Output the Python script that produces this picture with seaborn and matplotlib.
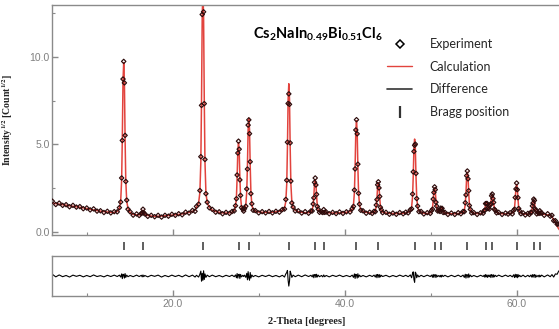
import numpy as np
import pandas as pd
import matplotlib.pyplot as plt
import seaborn as sns
from matplotlib.lines import Line2D

# 2-theta grid (deg), calculated profile sqrt(I) and difference (obs - calc)
two_theta = [
    6.0, 6.4, 6.8, 7.2, 7.6, 8.0, 8.4, 8.8, 9.2, 9.6, 10.0, 10.4, 10.8, 11.2, 11.6, 12.0, 12.4, 12.8, 13.2,
    13.55, 13.80, 13.95, 14.06, 14.14, 14.22, 14.30, 14.38, 14.46, 14.54, 14.65, 14.80, 15.05,
    15.4, 15.8, 16.1, 16.35, 16.45, 16.54, 16.63, 16.75, 17.1, 17.5, 17.9, 18.3, 18.7, 19.1, 19.5, 19.9, 20.3, 20.7, 21.1, 21.5, 21.9, 22.3, 22.6,
    22.76, 23.01, 23.16, 23.27, 23.35, 23.43, 23.51, 23.59, 23.67, 23.75, 23.86, 24.01, 24.26,
    24.6, 25.0, 25.4, 25.8, 26.2, 26.6, 26.9,
    27.15, 27.30, 27.41, 27.49, 27.57, 27.65, 27.73, 27.81, 27.89, 28.00, 28.15, 28.25,
    28.35, 28.50, 28.61, 28.69, 28.77, 28.85, 28.93, 29.01, 29.09, 29.20, 29.35, 29.60,
    30.0, 30.4, 30.8, 31.2, 31.6, 32.0, 32.4,
    32.75, 33.00, 33.15, 33.26, 33.34, 33.42, 33.50, 33.58, 33.66, 33.74, 33.85, 34.00, 34.25,
    34.6, 35.0, 35.4, 35.8, 36.07,
    36.22, 36.33, 36.41, 36.49, 36.57, 36.65, 36.73, 36.81, 36.92, 37.07, 37.30,
    37.45, 37.56, 37.67, 37.85, 38.2, 38.6, 39.0, 39.4, 39.8, 40.2,
    40.62, 40.87, 41.02, 41.13, 41.21, 41.29, 41.37, 41.45, 41.53, 41.61, 41.72, 41.87, 42.12,
    42.5, 42.9, 43.2,
    43.41, 43.56, 43.67, 43.75, 43.83, 43.91, 43.99, 44.07, 44.15, 44.26, 44.41,
    44.8, 45.2, 45.6, 46.0, 46.4, 46.8, 47.1,
    47.38, 47.63, 47.78, 47.89, 47.97, 48.05, 48.13, 48.21, 48.29, 48.37, 48.48, 48.63, 48.88,
    49.2, 49.6,
    49.95, 50.10, 50.21, 50.29, 50.37, 50.45, 50.53, 50.61, 50.69, 50.80, 50.95,
    51.08, 51.16, 51.24, 51.32, 51.45, 51.65,
    52.0, 52.4, 52.8, 53.2,
    53.51, 53.76, 53.91, 54.02, 54.10, 54.18, 54.26, 54.34, 54.42, 54.50, 54.61, 54.76, 55.01,
    55.4, 55.8, 56.1,
    56.22, 56.30, 56.38, 56.46, 56.54, 56.62, 56.72, 56.82, 56.92, 57.00, 57.08, 57.16, 57.24, 57.32, 57.40, 57.51, 57.66, 57.90,
    58.3, 58.7, 59.0,
    59.24, 59.49, 59.64, 59.75, 59.83, 59.91, 59.99, 60.07, 60.15, 60.23, 60.34, 60.49, 60.74,
    61.0, 61.3, 61.48,
    61.63, 61.74, 61.82, 61.90, 61.98, 62.06, 62.14, 62.22, 62.33, 62.50, 62.60, 62.68, 62.76, 62.90,
    63.2, 63.6, 63.9, 64.1, 64.3, 64.5, 64.7, 64.85, 65.0,
]
y_calc = [
    1.64, 1.60, 1.57, 1.54, 1.51, 1.48, 1.45, 1.42, 1.39, 1.36, 1.32, 1.28, 1.24, 1.20, 1.17, 1.14, 1.12, 1.10, 1.09,
    1.16, 1.32, 1.75, 2.95, 5.37, 8.64, 9.67, 8.64, 5.37, 2.95, 1.75, 1.32, 1.10,
    0.98, 0.96, 0.95, 1.00, 1.12, 1.22, 1.12, 0.98, 0.92, 0.89, 0.87, 0.88, 0.89, 0.90, 0.92, 0.94, 0.96, 0.98, 1.01, 1.05, 1.10, 1.16, 1.22,
    1.40, 1.63, 2.25, 4.01, 7.53, 12.29, 13.80, 12.29, 7.53, 4.01, 2.25, 1.63, 1.40,
    1.22, 1.15, 1.10, 1.07, 1.06, 1.07, 1.10,
    1.22, 1.42, 1.98, 3.10, 4.62, 5.10, 4.62, 3.10, 1.98, 1.42, 1.24, 1.20,
    1.26, 1.53, 2.29, 3.80, 5.85, 6.50, 5.85, 3.80, 2.29, 1.53, 1.26, 1.17,
    1.12, 1.10, 1.10, 1.10, 1.11, 1.13, 1.16,
    1.22, 1.35, 1.72, 2.74, 4.80, 7.59, 8.47, 7.59, 4.80, 2.74, 1.72, 1.35, 1.22,
    1.14, 1.10, 1.08, 1.08, 1.14,
    1.23, 1.50, 2.03, 2.75, 2.98, 2.75, 2.03, 1.50, 1.23, 1.14, 1.10,
    1.14, 1.20, 1.14, 1.09, 1.07, 1.06, 1.06, 1.07, 1.08, 1.10,
    1.16, 1.26, 1.52, 2.26, 3.73, 5.72, 6.35, 5.72, 3.73, 2.26, 1.52, 1.26, 1.16,
    1.10, 1.07, 1.07,
    1.11, 1.20, 1.44, 1.93, 2.59, 2.80, 2.59, 1.93, 1.44, 1.20, 1.11,
    1.06, 1.04, 1.03, 1.03, 1.04, 1.05, 1.07,
    1.11, 1.19, 1.40, 1.99, 3.18, 4.79, 5.30, 4.79, 3.18, 1.99, 1.40, 1.19, 1.11,
    1.05, 1.03,
    1.07, 1.15, 1.35, 1.77, 2.32, 2.50, 2.32, 1.77, 1.40, 1.22, 1.16,
    1.20, 1.30, 1.35, 1.28, 1.12, 1.06,
    1.03, 1.02, 1.02, 1.03,
    1.06, 1.10, 1.22, 1.55, 2.22, 3.12, 3.40, 3.12, 2.22, 1.55, 1.22, 1.10, 1.06,
    1.03, 1.03, 1.08,
    1.14, 1.30, 1.52, 1.65, 1.55, 1.40, 1.32, 1.33, 1.45, 1.68, 1.97, 2.10, 1.97, 1.60, 1.33, 1.18, 1.10, 1.05,
    1.02, 1.01, 1.03,
    1.04, 1.06, 1.14, 1.37, 1.85, 2.50, 2.70, 2.50, 1.85, 1.37, 1.14, 1.06, 1.02,
    1.00, 1.00, 1.02,
    1.05, 1.16, 1.39, 1.70, 1.80, 1.70, 1.39, 1.16, 1.06, 1.04, 1.10, 1.14, 1.10, 1.02,
    0.98, 0.96, 0.92, 0.85, 0.68, 0.50, 0.32, 0.18, 0.08,
]
y_diff = [
    0.10, -0.05, 0.06, -0.04, 0.03, -0.06, 0.05, -0.02, 0.04, -0.05, 0.03, -0.04, 0.06, -0.03, 0.02, -0.05, 0.04, -0.03, 0.05,
    -0.03, 0.05, -0.06, 0.12, -0.15, 0.10, 0.08, -0.12, 0.14, -0.08, 0.05, -0.04, 0.03,
    -0.04, 0.05, -0.03, 0.04, -0.05, 0.06, -0.04, 0.03, -0.05, 0.04, -0.02, 0.05, -0.06, 0.03, -0.04, 0.05, -0.03, 0.04, -0.05, 0.06, -0.04, 0.05, -0.06,
    0.04, -0.06, 0.10, 0.28, -0.30, 0.15, -0.25, 0.30, -0.20, 0.12, -0.08, 0.05, -0.04,
    0.05, -0.04, 0.03, -0.05, 0.04, -0.03, 0.05,
    -0.04, 0.06, -0.10, 0.14, -0.12, 0.08, 0.10, -0.14, 0.09, -0.05, 0.04, -0.03,
    0.05, -0.08, 0.15, -0.22, 0.25, -0.10, -0.24, 0.20, -0.12, 0.06, -0.04, 0.03,
    -0.05, 0.04, -0.03, 0.05, -0.04, 0.03, -0.05,
    0.04, -0.06, 0.12, 0.20, 0.32, -0.25, -0.58, -0.30, 0.28, 0.15, -0.08, 0.05, -0.04,
    0.05, -0.04, 0.06, -0.03, 0.04,
    -0.05, 0.08, -0.10, 0.07, 0.09, -0.08, 0.10, -0.06, 0.05, -0.04, 0.03,
    -0.05, 0.06, -0.04, 0.03, -0.05, 0.04, -0.03, 0.05, -0.04, 0.03,
    -0.04, 0.05, -0.08, 0.12, -0.14, 0.10, 0.06, -0.12, 0.13, -0.07, 0.05, -0.04, 0.03,
    -0.05, 0.04, -0.03,
    0.05, -0.06, 0.08, -0.10, 0.09, 0.05, -0.09, 0.08, -0.05, 0.04, -0.03,
    0.04, -0.05, 0.03, -0.04, 0.05, -0.03, 0.04,
    -0.04, 0.06, -0.10, 0.16, 0.24, -0.20, -0.36, 0.22, 0.15, -0.10, 0.06, -0.05, 0.04,
    -0.04, 0.05,
    -0.03, 0.05, -0.07, 0.09, -0.08, 0.06, 0.08, -0.09, 0.06, -0.04, 0.03,
    -0.05, 0.04, -0.06, 0.05, -0.03, 0.04,
    -0.05, 0.04, -0.04, 0.05,
    -0.04, 0.05, -0.08, 0.10, -0.12, 0.08, 0.07, -0.10, 0.12, -0.06, 0.05, -0.04, 0.03,
    -0.05, 0.04, -0.03,
    0.05, -0.07, 0.08, -0.05, 0.06, -0.08, 0.05, -0.04, 0.07, -0.09, 0.08, 0.05, -0.08, 0.07, -0.05, 0.04, -0.03, 0.05,
    -0.04, 0.05, -0.03,
    0.04, -0.05, 0.07, -0.09, 0.10, -0.06, 0.08, -0.10, 0.09, -0.05, 0.04, -0.04, 0.05,
    -0.05, 0.04, -0.04,
    0.05, -0.06, 0.08, -0.07, 0.06, 0.08, -0.09, 0.06, -0.05, 0.04, -0.06, 0.05, -0.04, 0.05,
    -0.05, 0.06, -0.04, 0.08, -0.06, 0.12, 0.10, 0.25, 0.35,
]
bragg_pos = [14.30, 16.54, 23.51, 27.65, 28.85, 33.50, 36.57, 37.56, 41.37, 43.91,
             48.13, 50.45, 51.24, 54.26, 56.46, 57.16, 59.99, 61.98, 62.68]

legend_labels = ["Experiment", "Calculation", "Difference", "Bragg position"]
formula = r"Cs$_2$NaIn$_{0.49}$Bi$_{0.51}$Cl$_6$"

assert len(two_theta) == len(y_calc) == len(y_diff)

df = pd.DataFrame({"two_theta": two_theta, "calc": y_calc, "diff": y_diff})
df["obs"] = df["calc"] + df["diff"]

sns.set_style("ticks")
plt.rcParams["font.family"] = ["Liberation Sans", "DejaVu Sans"]
plt.rcParams["mathtext.fontset"] = "custom"
plt.rcParams["mathtext.rm"] = "Lato:bold"
plt.rcParams["mathtext.it"] = "Lato:bold"
plt.rcParams["mathtext.bf"] = "Lato:bold"

SPINE = "#8a8a8a"
TXT = "#808080"
RED = "#e2433d"
XLIM = (6.0, 65.27)

fig = plt.figure(figsize=(5.59, 3.29), dpi=100)
ax = fig.add_axes([0.0936, 0.2872, 0.9118, 0.6985])
axb = fig.add_axes([0.0936, 0.234, 0.9118, 0.0365])
axd = fig.add_axes([0.0936, 0.1003, 0.9118, 0.1216])

# main pattern
sns.lineplot(data=df, x="two_theta", y="calc", ax=ax, color=RED, lw=1.1,
             estimator=None, sort=False, zorder=2)
sns.scatterplot(data=df, x="two_theta", y="obs", ax=ax, marker="D", s=5,
                linewidth=0.85, zorder=3)
ax.collections[-1].set_facecolor("none")
ax.collections[-1].set_edgecolor("#2e0c0c")

# bragg ticks
axb.plot(bragg_pos, [0.5] * len(bragg_pos), ls="none", marker="|", ms=5.5,
         mew=1.1, color="#333333")
axb.set_xlim(*XLIM)
axb.set_ylim(0, 1)
axb.axis("off")

# difference
sns.lineplot(data=df, x="two_theta", y="diff", ax=axd, color="black", lw=0.8,
             estimator=None, sort=False)

for a in (ax, axd):
    a.set_xlim(*XLIM)
    for s in a.spines.values():
        s.set_color(SPINE)
        s.set_linewidth(1.0)
    a.set_xticks([20, 40, 60])
    a.set_xticks([10, 30, 50], minor=True)
    a.tick_params(axis="both", which="major", direction="in", length=4,
                  width=1.0, color=SPINE, labelsize=7.5, labelcolor=TXT, pad=2)
    a.tick_params(axis="both", which="minor", direction="in", length=2.5,
                  width=0.8, color=SPINE)
    a.set_xlabel("")
    a.set_ylabel("")

ax.set_ylim(-0.17, 13.0)
ax.set_yticks([0, 5, 10])
ax.set_yticklabels(["0.0", "5.0", "10.0"])
ax.set_yticks([2.5, 7.5, 12.5], minor=True)
ax.tick_params(axis="x", which="both", labelbottom=False)

axd.set_ylim(-1.15, 1.15)
axd.set_yticks([])
axd.set_xticklabels(["20.0", "40.0", "60.0"])

ax.set_ylabel(r"Intensity$^{\mathbf{1/2}}$ [Count$^{\mathbf{1/2}}$]",
              family="Liberation Serif", weight="bold", size=7, color="#222222",
              math_fontfamily="stix")
ax.yaxis.set_label_coords(-0.073, 0.5)
axd.set_xlabel("2-Theta [degrees]", family="Liberation Serif", weight="bold",
               size=7.5, color="#222222")
axd.xaxis.set_label_coords(0.5, -0.52)

fig.text(253 / 559, 1 - 38.5 / 329, formula, family="Lato", weight="bold",
         size=10.5, color="black", va="baseline", ha="left")

handles = [
    Line2D([], [], ls="none", marker="D", ms=4, mfc="none", mec="black", mew=1.1),
    Line2D([], [], color=RED, lw=1.0),
    Line2D([], [], color="#333333", lw=1.2),
    Line2D([], [], ls="none", marker="|", ms=8, mew=1.6, color="#333333"),
]
fig.legend(handles, legend_labels, loc="upper left",
           bbox_to_anchor=(387 / 559, 1 - 38 / 329), frameon=False,
           prop=dict(family="Lato", size=9), handlelength=2.0,
           handletextpad=1.4, labelspacing=0.85, borderpad=0, borderaxespad=0)

fig.savefig("out.png", dpi=100)
plt.close(fig)
